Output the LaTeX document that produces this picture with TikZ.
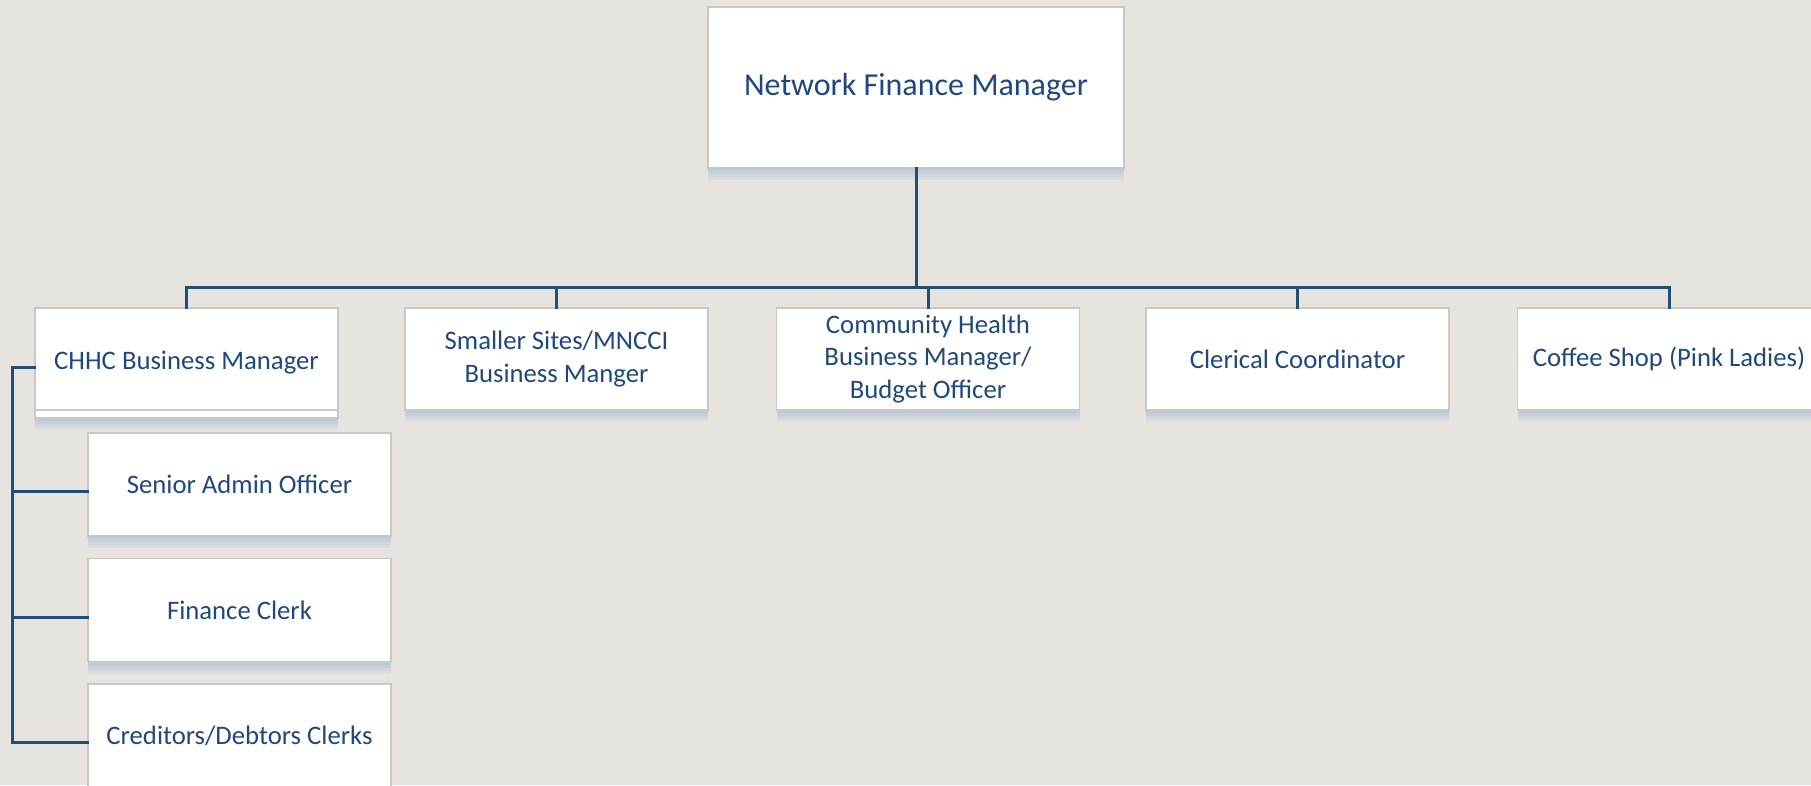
\documentclass[tikz,border=0pt]{standalone}
\usepackage{fontspec}
\setmainfont{Carlito}
\usetikzlibrary{shadows}
\definecolor{bgc}{RGB}{231,228,223}
\definecolor{txtc}{RGB}{31,73,125}
\definecolor{linec}{RGB}{31,78,121}
\definecolor{boxline}{RGB}{200,200,200}
\definecolor{shadc}{RGB}{140,175,210}
\tikzset{
  softshadow/.style={
    drop shadow={shadow xshift=0pt, shadow yshift=-3pt, fill=shadc, opacity=0.14},
    drop shadow={shadow xshift=0pt, shadow yshift=-6pt, fill=shadc, opacity=0.14},
    drop shadow={shadow xshift=0pt, shadow yshift=-9pt, fill=shadc, opacity=0.14},
    drop shadow={shadow xshift=0pt, shadow yshift=-12pt, fill=shadc, opacity=0.12}},
  orgbox/.style={draw=boxline, line width=1.5pt, fill=white, text=txtc,
    minimum width=303pt, minimum height=102pt, align=center, inner sep=2pt,
    font=\fontsize{26.7}{32.5}\selectfont, softshadow},
  conn/.style={draw=linec, line width=3pt, line cap=rect}
}
\begin{document}
\begin{tikzpicture}[x=1pt,y=-1pt]
\fill[bgc] (0,0) rectangle (1811,785);
\useasboundingbox (0,0) rectangle (1811,785);
% top
\node[orgbox, minimum width=416pt, minimum height=161pt, font=\fontsize{32}{39}\selectfont] (nfm) at (916,87.5) {\raisebox{-3pt}{Network Finance Manager}};
\coordinate (bus) at (0,287);
% level 2
\node[orgbox, minimum height=110pt] (chhc) at (186.5,363) {CHHC Business Manager};
\draw[boxline, line width=1.2pt] (chhc.west |- 0,410) -- (chhc.east |- 0,410);
\node[orgbox] (smaller) at (556.5,359) {Smaller Sites/MNCCI\\Business Manger};
\node[orgbox] (comm) at (928,359) {Community Health\\Business Manager/\\Budget Officer};
\node[orgbox] (cler) at (1297.5,359) {Clerical Coordinator};
\node[orgbox] (coffee) at (1669,359) {Coffee Shop (Pink Ladies)};
% level 3
\node[orgbox, minimum height=103pt] (senior) at (239.5,484.5) {Senior Admin Officer};
\node[orgbox, minimum height=103pt] (fin) at (239.5,610) {Finance Clerk};
\node[orgbox, minimum height=103pt] (cred) at (239.5,735.5) {Creditors/Debtors Clerks};
% connection points
\coordinate (spine) at (12,0);
\coordinate (pchhc) at ([yshift=-4pt]chhc.west);
\coordinate (psen) at ([yshift=-7pt]senior.west);
\coordinate (pfin) at ([yshift=-7pt]fin.west);
\coordinate (pcred) at ([yshift=-7pt]cred.west);
% connectors
\draw[conn] (nfm.south) -- (nfm.south |- bus);
\draw[conn] (chhc.north) -- (chhc.north |- bus) -- (coffee.north |- bus) -- (coffee.north);
\draw[conn] (smaller.north |- bus) -- (smaller.north);
\draw[conn] (comm.north |- bus) -- (comm.north);
\draw[conn] (cler.north |- bus) -- (cler.north);
\draw[conn] (pchhc) -- (spine |- pchhc) -- (spine |- pcred) -- (pcred);
\draw[conn] (spine |- psen) -- (psen);
\draw[conn] (spine |- pfin) -- (pfin);
\end{tikzpicture}
\end{document}
